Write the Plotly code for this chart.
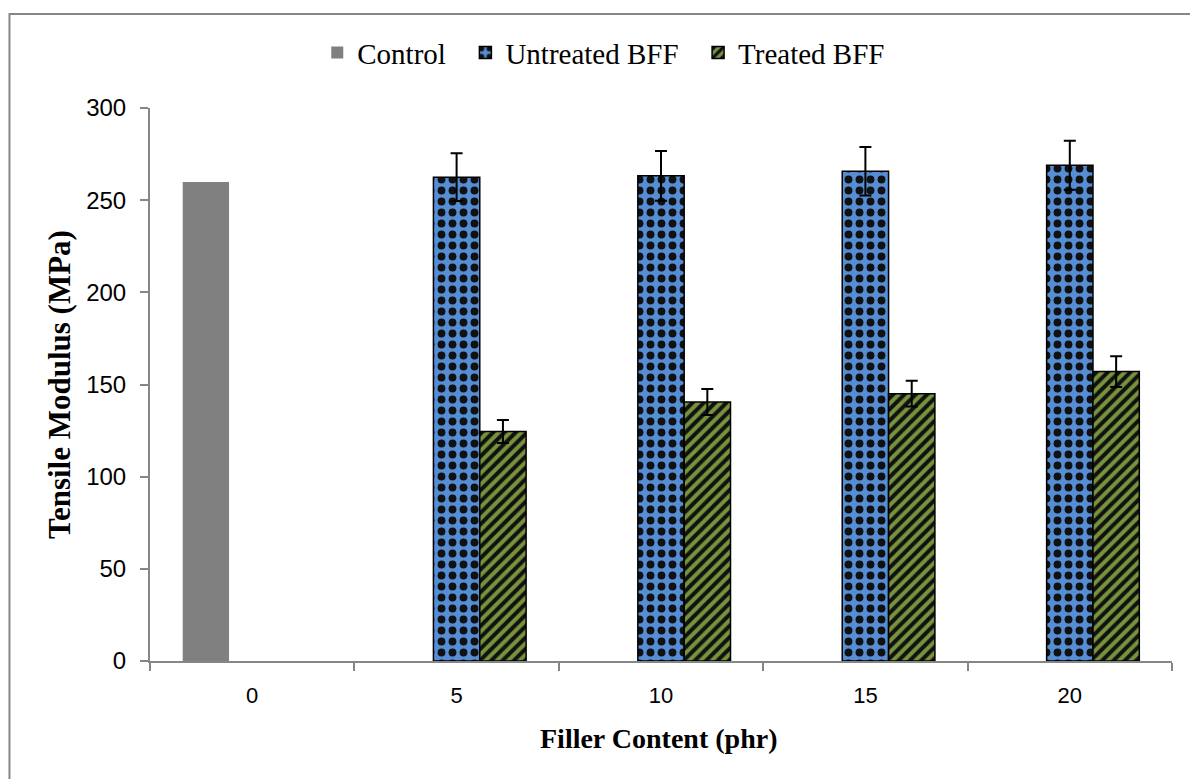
import plotly.graph_objects as go

# Filler content levels (phr) on the category axis
filler = ["0", "5", "10", "15", "20"]

# Tensile modulus (MPa) and standard deviations
control = [259.8, None, None, None, None]
untreated = [None, 262.5, 263.2, 265.7, 269.0]
untreated_err = [0, 13.0, 13.5, 13.2, 13.3]
treated = [None, 124.5, 140.5, 145.0, 157.0]
treated_err = [0, 6.3, 7.0, 7.0, 8.3]

AXIS_GREY = "#868686"
SERIF = "Liberation Serif, Times New Roman, serif"
SANS = "Liberation Sans, Arial, sans-serif"
PAD = "\u00a0\u00a0"  # extra spacing between legend entries

fig = go.Figure()

fig.add_trace(go.Bar(
    name="Control" + PAD, x=filler, y=control,
    marker=dict(color="#808080", line=dict(width=0)),
))

fig.add_trace(go.Bar(
    name="Untreated BFF" + PAD, x=filler, y=untreated,
    error_y=dict(type="data", array=untreated_err, visible=True,
                 color="black", thickness=2, width=6),
    marker=dict(
        color="#558ED5",
        line=dict(color="black", width=1.5),
        pattern=dict(shape=".", bgcolor="#558ED5", fgcolor="#111111",
                     size=11, solidity=0.4, fillmode="replace"),
    ),
))

fig.add_trace(go.Bar(
    name="Treated BFF", x=filler, y=treated,
    error_y=dict(type="data", array=treated_err, visible=True,
                 color="black", thickness=2, width=6),
    marker=dict(
        color="#77933C",
        line=dict(color="black", width=1.5),
        pattern=dict(shape="/", bgcolor="#77933C", fgcolor="#111111",
                     size=8, solidity=0.5, fillmode="replace"),
    ),
))

fig.update_layout(
    width=1190, height=779,
    margin=dict(l=150, r=18, t=108, b=118),
    paper_bgcolor="white", plot_bgcolor="white",
    barmode="group", bargap=0.32, bargroupgap=0,
    font=dict(family=SANS, color="black"),
    showlegend=True,
    legend=dict(
        orientation="h", x=0.444, xanchor="center", y=1.10, yanchor="middle",
        font=dict(family=SERIF, size=29, color="black"),
        itemwidth=30, traceorder="normal", bgcolor="rgba(0,0,0,0)",
    ),
    xaxis=dict(
        type="category", showgrid=False, zeroline=False,
        showline=True, linecolor=AXIS_GREY, linewidth=2,
        ticks="outside", tickson="boundaries", ticklen=8,
        tickcolor=AXIS_GREY, tickwidth=1.5,
        tickfont=dict(family=SANS, size=22, color="black"),
        ticklabelstandoff=14,
    ),
    yaxis=dict(
        range=[0, 300], dtick=50, showgrid=False, zeroline=False,
        showline=True, linecolor=AXIS_GREY, linewidth=2,
        ticks="outside", ticklen=8, tickcolor=AXIS_GREY, tickwidth=1.5,
        tickfont=dict(family=SANS, size=24, color="black"),
        ticklabelstandoff=9,
        title=dict(text="<b>Tensile Modulus (MPa)</b>",
                   font=dict(family=SERIF, size=31, color="black"),
                   standoff=6),
    ),
    annotations=[dict(
        text="<b>Filler Content (phr)</b>", xref="paper", yref="paper",
        x=0.498, y=-0.140, xanchor="center", yanchor="middle", showarrow=False,
        font=dict(family=SERIF, size=28, color="black"),
    )],
    shapes=[dict(
        type="rect", xref="paper", yref="paper",
        x0=-0.1375, x1=1.03, y0=-0.23, y1=1.170,
        line=dict(color=AXIS_GREY, width=2), fillcolor="rgba(0,0,0,0)",
        layer="below",
    )],
)

fig.write_html("out.html")
